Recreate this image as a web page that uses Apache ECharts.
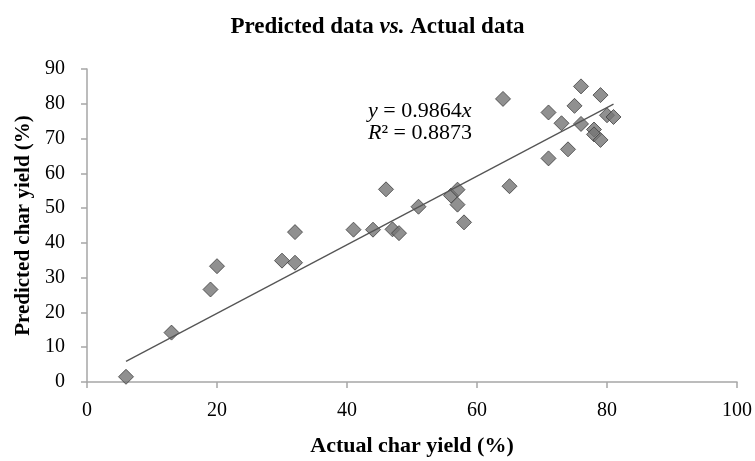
<!DOCTYPE html>
<html>
<head>
<meta charset="utf-8">
<script src="https://cdn.jsdelivr.net/npm/echarts@6/dist/echarts.min.js"></script>
<style>
  html, body { margin: 0; padding: 0; background: #fff; }
  #main { width: 755px; height: 461px; }
</style>
</head>
<body>
<div id="main"></div>
<script>
var actual = [6, 13, 19, 20, 30, 32, 32, 41, 44, 46, 47, 48, 51, 56, 57, 57, 58,
              64, 65, 71, 71, 73, 74, 75, 76, 76, 78, 78, 79, 79, 80, 81];
var predicted = [1.5, 14.2, 26.6, 33.3, 34.9, 34.3, 43.1, 43.8, 43.8, 55.4, 43.9, 42.8, 50.4, 53.6, 55.3, 51.0, 45.9,
                 81.4, 56.3, 77.5, 64.3, 74.4, 66.9, 79.4, 85.0, 74.2, 72.6, 71.2, 82.5, 69.6, 76.7, 76.2];
var trendX = [6, 81];
var trendY = [5.92, 79.9];
var xTicks = [0, 20, 40, 60, 80, 100];
var yTicks = [0, 10, 20, 30, 40, 50, 60, 70, 80, 90];

var FONT = '"Liberation Serif", serif';

(function () {
    var myChart = echarts.init(document.getElementById('main'));

    var points = actual.map(function (x, i) { return [x, predicted[i]]; });
    var trend = trendX.map(function (x, i) { return [x, trendY[i]]; });

    var option = {
        animation: false,
        backgroundColor: '#fff',
        title: {
            text: 'Predicted data {i|vs.} Actual data',
            left: 'center',
            top: 11,
            textStyle: {
                fontFamily: FONT,
                fontSize: 23,
                fontWeight: 'bold',
                color: '#000',
                rich: {
                    i: { fontFamily: FONT, fontSize: 23, fontWeight: 'bold', fontStyle: 'italic', color: '#000' }
                }
            }
        },
        grid: { left: 87, right: 18, top: 69, bottom: 79, outerBoundsMode: 'none' },
        xAxis: {
            type: 'value',
            min: xTicks[0],
            max: xTicks[xTicks.length - 1],
            interval: 20,
            name: 'Actual char yield (%)',
            nameLocation: 'middle',
            nameGap: 53,
            nameTextStyle: { fontFamily: FONT, fontSize: 22, fontWeight: 'bold', color: '#000' },
            axisLine: { lineStyle: { color: '#a6a6a6', width: 1.5 } },
            axisTick: { show: true, length: 6, lineStyle: { color: '#a6a6a6', width: 1.5 } },
            axisLabel: { fontFamily: FONT, fontSize: 20, color: '#000', margin: 19 },
            splitLine: { show: false }
        },
        yAxis: {
            type: 'value',
            min: yTicks[0],
            max: yTicks[yTicks.length - 1],
            interval: 10,
            name: 'Predicted char yield (%)',
            nameLocation: 'middle',
            nameGap: 50,
            nameTextStyle: { fontFamily: FONT, fontSize: 21, fontWeight: 'bold', color: '#000' },
            axisLine: { show: true, lineStyle: { color: '#a6a6a6', width: 1.5 } },
            axisTick: { show: true, length: 6, lineStyle: { color: '#a6a6a6', width: 1.5 } },
            axisLabel: { fontFamily: FONT, fontSize: 20, color: '#000', margin: 22 },
            splitLine: { show: false }
        },
        graphic: [{
            type: 'text',
            left: 368,
            top: 100,
            style: {
                text: '{i|y} = 0.9864{i|x}\n{i|R}² = 0.8873',
                fontFamily: FONT,
                fontSize: 22,
                lineHeight: 22,
                fill: '#000',
                rich: {
                    i: { fontFamily: FONT, fontSize: 22, fontStyle: 'italic', fill: '#000' }
                }
            }
        }],
        series: [
            {
                name: 'Trend',
                type: 'line',
                data: trend,
                symbol: 'none',
                lineStyle: { color: '#555', width: 1.3 },
                silent: true,
                z: 3
            },
            {
                name: 'Data',
                type: 'scatter',
                data: points,
                symbol: 'diamond',
                symbolSize: 15,
                itemStyle: { color: '#747474', borderColor: '#3f3f3f', borderWidth: 1 },
                z: 2
            }
        ]
    };

    myChart.setOption(option);
})();
</script>
</body>
</html>
